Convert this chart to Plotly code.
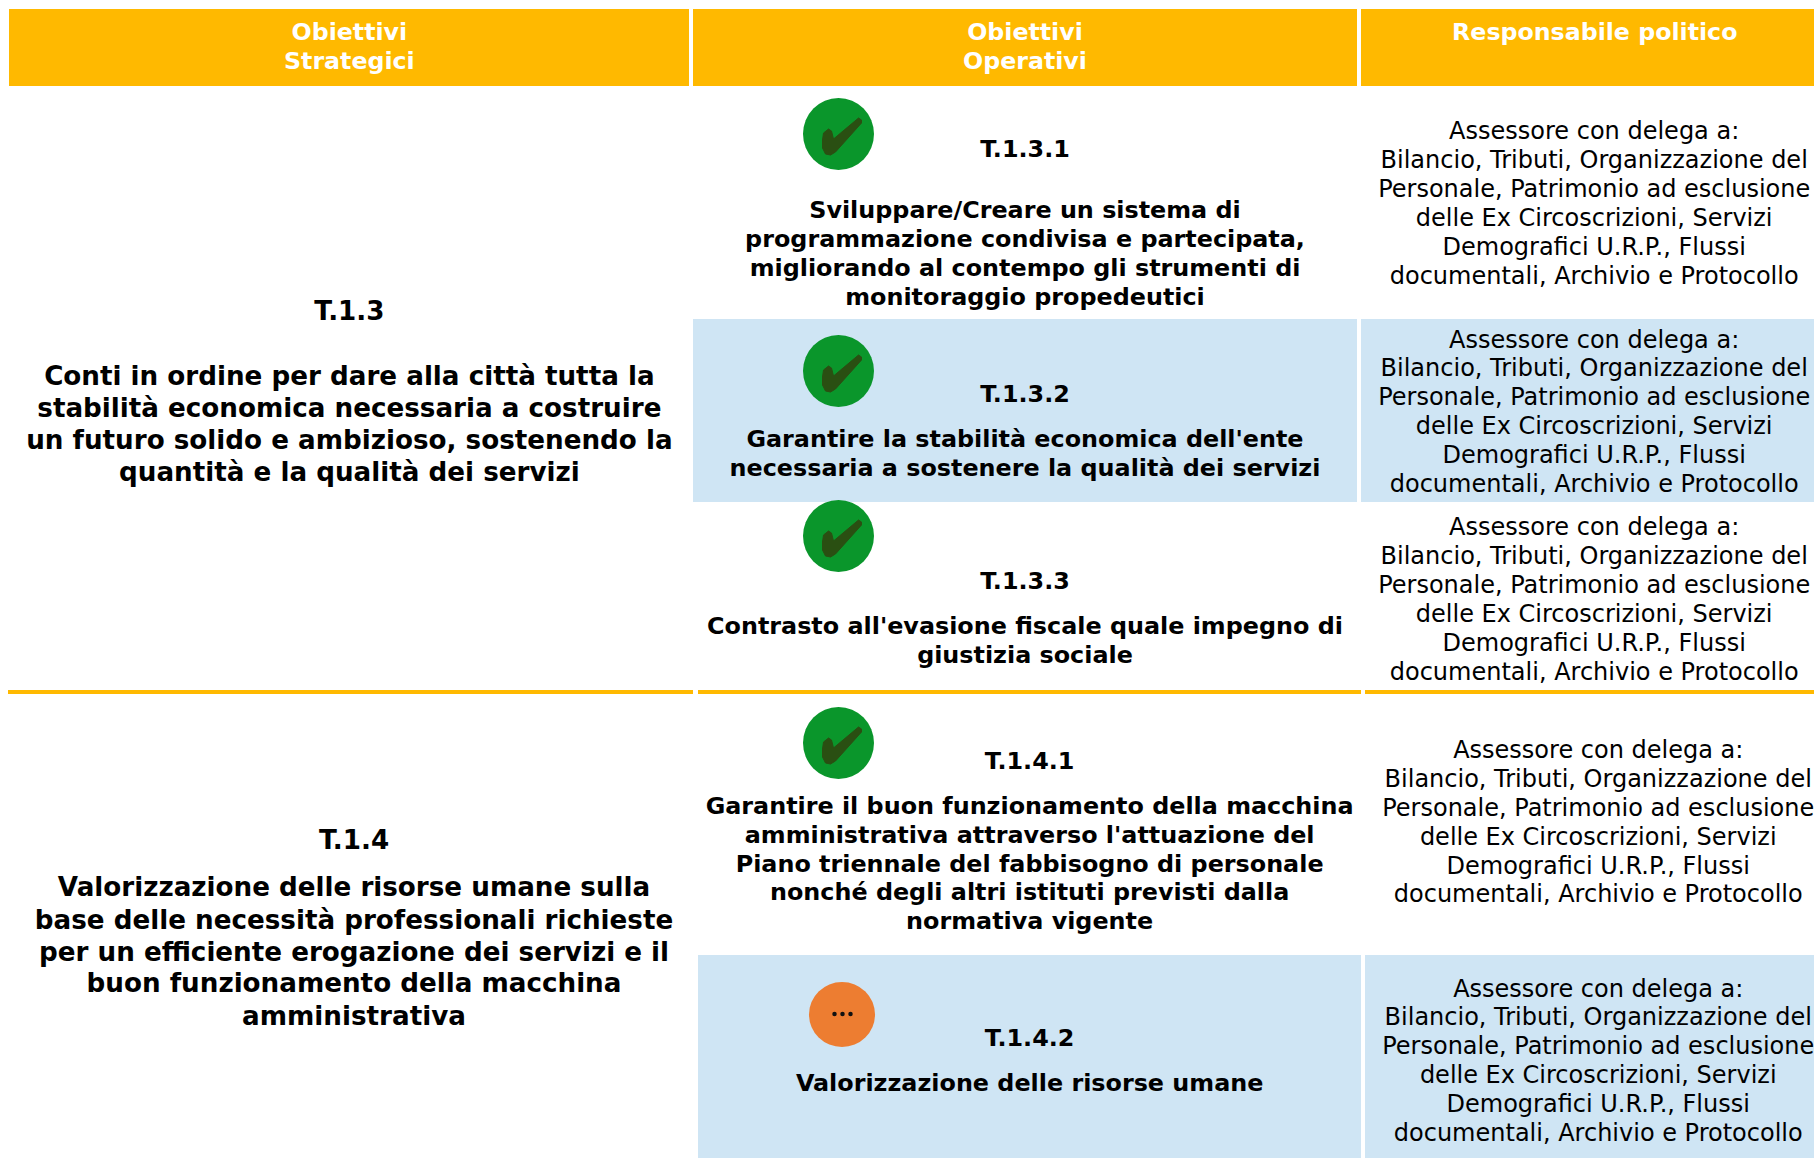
import plotly.graph_objects as go

# ---- content ----
headers = [["Obiettivi", "Strategici"], ["Obiettivi", "Operativi"], ["Responsabile politico"]]
strategic_t13 = ["T.1.3", "Conti in ordine per dare alla città tutta la",
                 "stabilità economica necessaria a costruire",
                 "un futuro solido e ambizioso, sostenendo la",
                 "quantità e la qualità dei servizi"]
strategic_t14 = ["T.1.4", "Valorizzazione delle risorse umane sulla",
                 "base delle necessità professionali richieste",
                 "per un efficiente erogazione dei servizi e il",
                 "buon funzionamento della macchina", "amministrativa"]
op_1 = ["T.1.3.1", "Sviluppare/Creare un sistema di", "programmazione condivisa e partecipata,",
        "migliorando al contempo gli strumenti di", "monitoraggio propedeutici"]
op_2 = ["T.1.3.2", "Garantire la stabilità economica dell'ente",
        "necessaria a sostenere la qualità dei servizi"]
op_3 = ["T.1.3.3", "Contrasto all'evasione fiscale quale impegno di", "giustizia sociale"]
op_4 = ["T.1.4.1", "Garantire il buon funzionamento della macchina",
        "amministrativa attraverso l'attuazione del",
        "Piano triennale del fabbisogno di personale",
        "nonché degli altri istituti previsti dalla", "normativa vigente"]
op_5 = ["T.1.4.2", "Valorizzazione delle risorse umane"]
responsible = ["Assessore con delega a:", "Bilancio, Tributi, Organizzazione del",
               "Personale, Patrimonio ad esclusione", "delle Ex Circoscrizioni, Servizi",
               "Demografici U.R.P., Flussi", "documentali, Archivio e Protocollo"]

# ---- colours ----
GOLD, BLUE, GREEN, DARK, ORANGE = "#FFB900", "#CFE5F4", "#0A962B", "#2A4F12", "#ED7D31"

# ---- layout geometry (pixels of the 1814x1158 page) ----
S = 1814 / 1568
DY = 2.2  # vertical nudge for text lines
FONT = "DejaVu Sans"


def rect(x0, y0, x1, y1, color):
    return dict(type="rect", xref="x", yref="y", x0=x0, y0=y0, x1=x1, y1=y1,
                fillcolor=color, line_width=0, layer="below")


shapes = [
    rect(9, 9, 689, 86, GOLD), rect(693, 9, 1357, 86, GOLD), rect(1361, 9, 1814, 86, GOLD),
    rect(693, 319, 1357, 502, BLUE), rect(1361, 319, 1814, 502, BLUE),
    rect(8, 690, 693, 694, GOLD), rect(698, 690, 1361, 694, GOLD), rect(1365, 690, 1814, 694, GOLD),
    rect(698, 955, 1361, 1158, BLUE), rect(1365, 955, 1814, 1158, BLUE),
]

CHECK = [(-15, -1), (-10, -5), (-7, -3), (-5, 5), (20, -16), (23, -14), (23, -11),
         (-3, 18), (-8, 21), (-13, 20), (-16, 14), (-16, 6)]
for cx, cy in [(838.5, 134), (838.5, 371), (838.5, 536), (838.5, 743)]:
    shapes.append(dict(type="circle", x0=cx - 35.5, x1=cx + 35.5, y0=cy - 36, y1=cy + 36,
                       fillcolor=GREEN, line_width=0, layer="below"))
    path = "M" + " L".join(f"{cx + a},{cy + b}" for a, b in CHECK) + " Z"
    shapes.append(dict(type="path", path=path, fillcolor=DARK,
                       line=dict(color=DARK, width=1), layer="below"))
shapes.append(dict(type="circle", x0=809, x1=875, y0=982, y1=1047, fillcolor=ORANGE,
                   line_width=0, layer="below"))

fig = go.Figure()


def add_lines(lines, x, ys, size, color="#000000", bold=True):
    fig.add_trace(go.Scatter(
        x=[x * S] * len(lines), y=[(y + DY) * S for y in ys], text=lines, mode="text",
        textposition="middle center", hoverinfo="skip", showlegend=False,
        textfont=dict(family=FONT, size=size, color=color, weight="bold" if bold else "normal")))


H = 23.7
add_lines(headers[0], 302, [27, 52], H, "#FFFFFF")
add_lines(headers[1], 886, [27, 52], H, "#FFFFFF")
add_lines(headers[2], 1378.5, [27], H, "#FFFFFF")

C1 = 26.2
add_lines(strategic_t13, 302, [269, 325, 353, 380, 408], C1)
add_lines(strategic_t14, 306, [726, 767, 795, 823, 850, 878], C1)

C2 = 23.85
add_lines(op_1, 886, [128, 181, 206, 231, 256], C2)
add_lines(op_2, 886, [340, 379, 404], C2)
add_lines(op_3, 886, [502, 541, 566], C2)
add_lines(op_4, 890, [657, 696, 721, 746, 771, 796], C2)
add_lines(op_5, 890, [897, 936], C2)

C3 = 24
add_lines(responsible, 1378, [113, 138, 163, 188, 213, 238], C3, bold=False)
add_lines(responsible, 1378, [293, 318, 343, 368, 393, 418], C3, bold=False)
add_lines(responsible, 1378, [455, 480, 505, 530, 555, 580], C3, bold=False)
add_lines(responsible, 1381.5, [648, 673, 698, 723, 748, 772], C3, bold=False)
add_lines(responsible, 1381.5, [854, 879, 904, 929, 954, 979], C3, bold=False)

# dots of the "in progress" badge
fig.add_trace(go.Scatter(x=[834.5, 842.5, 850.5], y=[1014, 1014, 1014], mode="markers",
                         marker=dict(color="#111111", size=4.5), hoverinfo="skip", showlegend=False))

fig.update_layout(
    width=1814, height=1158, margin=dict(l=0, r=0, t=0, b=0),
    paper_bgcolor="#FFFFFF", plot_bgcolor="#FFFFFF", shapes=shapes,
    xaxis=dict(range=[0, 1814], visible=False, fixedrange=True),
    yaxis=dict(range=[1158, 0], visible=False, fixedrange=True),
)
fig.write_html("out.html", config={"displayModeBar": False},
               post_script="document.body.style.margin='0';document.body.style.overflow='hidden';")
